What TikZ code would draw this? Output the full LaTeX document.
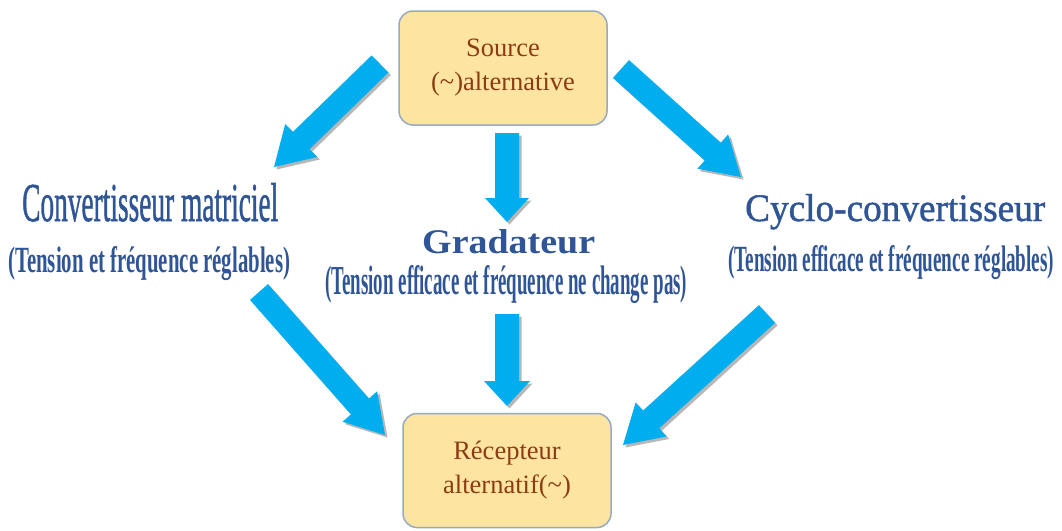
\documentclass[tikz,border=0pt]{standalone}
\usepackage{fontspec}
\setmainfont{Liberation Serif}
\newfontfamily\headfont{Liberation Serif}[FakeBold=1.2]
\usetikzlibrary{calc}

\definecolor{boxfill}{RGB}{253,228,160}
\definecolor{boxline}{RGB}{150,170,195}
\definecolor{boxtext}{RGB}{140,60,20}
\definecolor{headblue}{RGB}{47,85,151}
\definecolor{arrowblue}{RGB}{0,174,239}
\definecolor{arrowshade}{RGB}{160,160,160}

\tikzset{
  box/.style={draw=boxline, line width=1.5pt, fill=boxfill, rounded corners=14pt,
    minimum width=208pt, minimum height=114pt, inner sep=0pt,
    text=boxtext, align=center, font=\fontsize{26.5}{34}\selectfont},
  heading/.style={text=headblue, inner sep=0pt, anchor=base west},
  arrowbody/.style={fill=arrowblue},
  arrowshadow/.style={fill=arrowshade, opacity=0.75,
    transform canvas={shift={(2.5pt,-2.5pt)}}},
}

% outline of a block arrow: tail, tip, head length, head half width
\newcommand\arrowoutline[4]{%
  ($(#1)!12pt!90:(#2)$) -- ($(ba-base)!12pt!90:(#2)$) -- ($(ba-base)!#4!90:(#2)$)
  -- (#2) -- ($(ba-base)!#4!-90:(#2)$) -- ($(ba-base)!12pt!-90:(#2)$)
  -- ($(#1)!12pt!-90:(#2)$) -- cycle}
\newcommand\blockarrow[4]{%
  \path ($(#2)!#3!(#1)$) coordinate (ba-base);
  \fill[arrowshadow] \arrowoutline{#1}{#2}{#3}{#4};
  \fill[arrowbody] \arrowoutline{#1}{#2}{#3}{#4};
}

\begin{document}
\begin{tikzpicture}[x=1pt,y=-1pt]
\fill[white] (0,0) rectangle (1062,530);
\useasboundingbox (0,0) rectangle (1062,530);

% the two end boxes
\node[box] (src) at (503,68) {Source\\(\textasciitilde)alternative};
\node[box] (rec) at (507,470.5) {Récepteur\\alternatif(\textasciitilde)};

% converter names
\node[heading] (cm) at (22,221) {\resizebox{256pt}{38pt}{\headfont Convertisseur matriciel}};
\node[heading] (cmsub) at (8,272) {\resizebox{282pt}{26pt}{\bfseries (Tension et fréquence réglables)}};
\node[heading] (cc) at (745,221) {\resizebox{300pt}{27pt}{\headfont Cyclo-convertisseur}};
\node[heading] (ccsub) at (728,271) {\resizebox{326pt}{26pt}{\bfseries (Tension efficace et fréquence réglables)}};
\node[heading] (gr) at (422,253) {\resizebox{173pt}{24pt}{\bfseries Gradateur}};
\node[heading] (grsub) at (325,294) {\resizebox{362pt}{29pt}{\bfseries (Tension efficace et fréquence ne change pas)}};

% arrow ends
\coordinate (a1t) at (380,64);  \coordinate (a1h) at (274,167);
\coordinate (a2t) at (621,69);  \coordinate (a2h) at (741,177);
\coordinate (a3t) at (507,133); \coordinate (a3h) at (507,222);
\coordinate (a4t) at (507,314); \coordinate (a4h) at (507,406);
\coordinate (a5t) at (259,292); \coordinate (a5h) at (385,435);
\coordinate (a6t) at (767,314); \coordinate (a6h) at (623,445);

\blockarrow{a1t}{a1h}{38pt}{23pt}
\blockarrow{a2t}{a2h}{38pt}{23pt}
\blockarrow{a3t}{a3h}{24pt}{22pt}
\blockarrow{a4t}{a4h}{25pt}{23pt}
\blockarrow{a5t}{a5h}{38pt}{23pt}
\blockarrow{a6t}{a6h}{38pt}{23pt}
\end{tikzpicture}
\end{document}
